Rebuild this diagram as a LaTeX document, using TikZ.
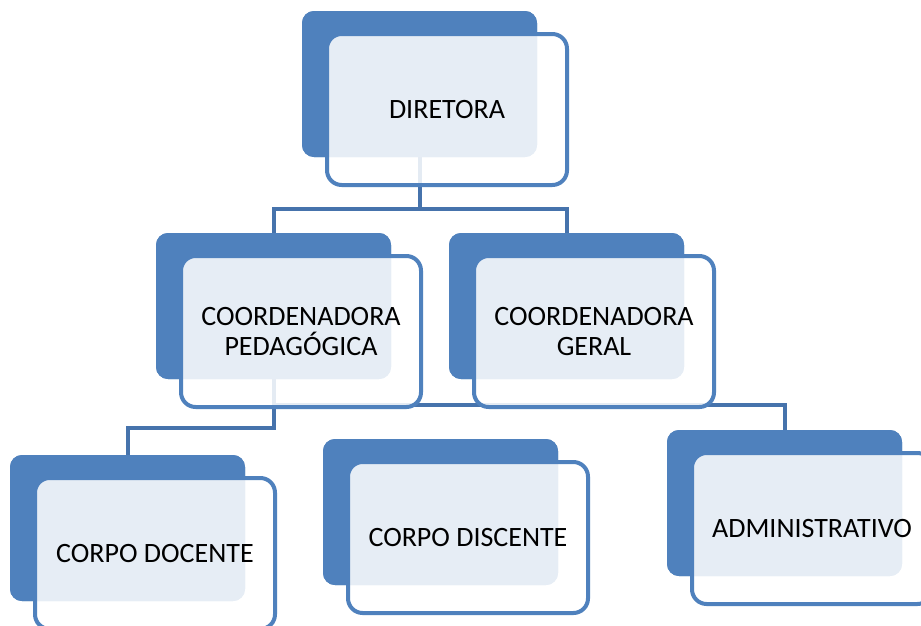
\documentclass[tikz,border=0pt]{standalone}
\usepackage{fontspec}
\setmainfont{Carlito}
\definecolor{accent}{RGB}{79,129,189}
\definecolor{conn}{RGB}{70,115,172}
\tikzset{
  backbox/.style={draw=none, fill=accent, rounded corners=9pt, anchor=north west,
    minimum width=176.25pt, minimum height=109.5pt, inner sep=0pt, outer sep=0pt},
  frontbox/.style={draw=accent, line width=3pt, fill=white, fill opacity=0.86, text opacity=1,
    rounded corners=11pt, anchor=north west, minimum width=180pt, minimum height=113.25pt,
    inner sep=0pt, outer sep=0pt, align=center, font=\fontsize{21}{22.5}\selectfont},
  link/.style={draw=conn, line width=3pt}
}
\begin{document}
\begin{tikzpicture}[x=0.75pt,y=-0.75pt]
\useasboundingbox (0,0) rectangle (921,625);
\clip (0,0) rectangle (921,625);
\fill[white] (0,0) rectangle (921,625);
% back boxes
\node[backbox] (dirb) at (302,11) {};
\node[backbox] (cpb) at (156,233) {};
\node[backbox] (cgb) at (449,233) {};
\node[backbox] (cdb) at (10,455) {};
\node[backbox] (cdsb) at (323,439) {};
\node[backbox] (admb) at (667,430) {};
% connectors
\draw[link] (dirb.south) -- (dirb.south |- 0,209) -| (cpb.north);
\draw[link] (dirb.south |- 0,209) -| (cgb.north);
\draw[link] (cpb.south) -- (cpb.south |- 0,428) -| (cdb.north);
\draw[link] (cpb.south |- 0,405) -| (admb.north);
% redraw back boxes over connector ends
\node[backbox] at (302,11) {};
\node[backbox] at (156,233) {};
\node[backbox] at (449,233) {};
\node[backbox] at (10,455) {};
\node[backbox] at (323,439) {};
\node[backbox] at (667,430) {};
% front boxes
\node[frontbox] (dir) at (327,34) {DIRETORA};
\node[frontbox] (cp) at (181,256) {COORDENADORA\\PEDAGÓGICA};
\node[frontbox] (cg) at (474,256) {COORDENADORA\\GERAL};
\node[frontbox] (cd) at (35,478) {CORPO DOCENTE};
\node[frontbox] (cds) at (348,462) {CORPO DISCENTE};
\node[frontbox] (adm) at (692,453) {ADMINISTRATIVO};
\end{tikzpicture}
\end{document}
